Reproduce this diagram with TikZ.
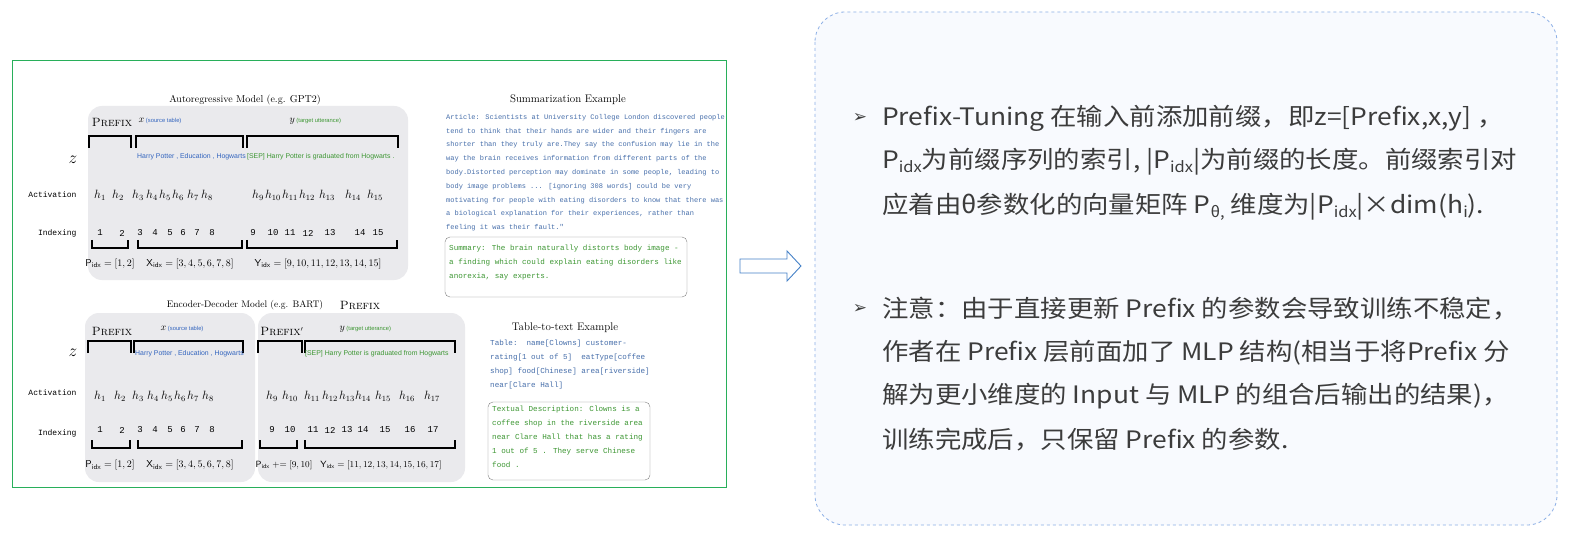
\documentclass[tikz,border=0pt]{standalone}
\usepackage{fontspec}
\usetikzlibrary{positioning, calc, shapes.arrows}
\newfontfamily\cjk{Noto Sans CJK SC}
\newfontfamily\papermono{Liberation Mono}
\newfontfamily\papersans{Liberation Sans}
\newfontfamily\symfont{DejaVu Sans}
\definecolor{xgreen}{RGB}{40,175,90}
\definecolor{xbox}{RGB}{234,234,237}
\definecolor{xtok}{RGB}{50,100,190}
\definecolor{xgood}{RGB}{60,150,50}
\definecolor{xart}{RGB}{70,110,170}
\definecolor{xdash}{RGB}{140,175,230}
\definecolor{xtext}{RGB}{60,60,60}
\definecolor{xarrow}{RGB}{70,130,200}
\tikzset{
	brack/.style={line width=1.5pt},
	panel/.style={fill=xbox, draw=none, rounded corners=14pt},
	lab/.style={font=\papermono\fontsize{8}{8}\selectfont, anchor=east},
	tit/.style={font=\fontsize{10}{10}\selectfont},
	act/.style={font=\fontsize{12}{12}\selectfont, inner sep=0pt},
	num/.style={font=\papermono\fontsize{9}{9}\selectfont, inner sep=0pt},
	tokb/.style={font=\papersans\fontsize{6.9}{6.9}\selectfont, text=xtok, inner sep=0pt},
	tokg/.style={font=\papersans\fontsize{6.9}{6.9}\selectfont, text=xgood, inner sep=0pt},
	mono/.style={font=\papermono\fontsize{7}{13.8}\selectfont, align=left, anchor=north west, inner sep=0pt},
	mono2/.style={font=\papermono\fontsize{7.6}{14}\selectfont, align=left, anchor=north west, inner sep=0pt},
	cn/.style={font=\cjk\fontsize{24}{24}\selectfont, text=xtext, anchor=west, inner sep=0pt},
	bul/.style={font=\symfont\fontsize{17}{17}\selectfont, text=xtext},
}
\newcommand\topbrace[3]{\draw[brack] (#1,#3+12) -- (#1,#3) -- (#2,#3) -- (#2,#3+12);}
\newcommand\botbrace[3]{\draw[brack] (#1,#3-8) -- (#1,#3) -- (#2,#3) -- (#2,#3-8);}
\newcommand\lowidx[1]{\raisebox{-4pt}{\fontsize{15}{15}\selectfont #1}}
\newcommand\pfx{{\fontsize{12}{12}\selectfont\scshape Prefix}}
\newcommand\cnline[1]{\scalebox{1.1}[1]{#1}}
\begin{document}
\begin{tikzpicture}[x=1pt, y=-1pt]
	\useasboundingbox (0,0) rectangle (1569,540);
	\fill[white] (0,0) rectangle (1569,540);

	% paper figure
	\draw[xgreen, line width=0.8pt] (12,60) rectangle (726,487);
	\node[tit] (ar) at (245,100) {Autoregressive Model (e.g. GPT2)};
	\fill[panel] (88,106) rectangle (408,280);
	\node[tit] at (112,122) {\pfx};
	\node[tit] at (160,121) {$\fontsize{15}{15}\selectfont x$\,{\papersans\fontsize{5.8}{5.8}\selectfont\color{xtok}(source table)}};
	\node[tit, anchor=west] at (286,121) {$\fontsize{15}{15}\selectfont y$\,{\papersans\fontsize{5.8}{5.8}\selectfont\color{xgood}(target utterance)}};
	\topbrace{89}{131}{136}
	\topbrace{136}{243}{136}
	\topbrace{247}{398}{136}
	\node[font=\fontsize{18}{18}\selectfont] (z1) at (73,160) {$z$};
	\node[tokb, anchor=west] at (137,157) {Harry Potter , Education , Hogwarts};
	\node[tokg, anchor=west] at (247,157) {[SEP] Harry Potter is graduated from Hogwarts .};
	\node[lab] (act1) at (80,195) {Activation};
	\node[lab] (idx1) at (80,233) {Indexing};
	\foreach \xx/\ii in {100/1,118/2,138/3,152/4,165/5,178/6,193/7,207/8,258/9,273/10,290/11,307/12,327/13,353/14,375/15}
		\node[act] at (\xx,195) {$h_{\ii}$};
	\foreach \xx/\ii in {100/1,122/2,140/3,155/4,170/5,183/6,197/7,212/8,253/9,273/10,290/11,308/12,330/13,360/14,378/15}
		\node[num] at (\xx,233) {\ii};
	\botbrace{92}{128}{248}
	\botbrace{138}{242}{248}
	\botbrace{247}{397}{248}
	\node[tit] at (110,264) {$\mathsf{P_{idx}}=[1,2]$};
	\node[tit] at (190,264) {$\mathsf{X_{idx}}=[3,4,5,6,7,8]$};
	\node[tit] at (318,264) {$\mathsf{Y_{idx}}=[9,10,11,12,13,14,15]$};

	\node[tit, font=\fontsize{11}{11}\selectfont] (sum) at (568,100) {Summarization Example};
	\node[mono, text=xart] at (446,114) {Article: Scientists at University College London discovered people\\tend to think that their hands are wider and their fingers are\\shorter than they truly are.They say the confusion may lie in the\\way the brain receives information from different parts of the\\body.Distorted perception may dominate in some people, leading to\\body image problems ... [ignoring 308 words] could be very\\motivating for people with eating disorders to know that there was\\a biological explanation for their experiences, rather than\\feeling it was their fault."};
	\draw[gray, rounded corners=5pt] (445,237) rectangle (687,297);
	\node[mono2, text=xgood] at (449,245) {Summary: The brain naturally distorts body image -\\a finding which could explain eating disorders like\\anorexia, say experts.};

	\node[tit, font=\fontsize{9.5}{9.5}\selectfont] (ed) at (245,305) {Encoder-Decoder Model (e.g. BART)};
	\node[tit] at (360,305) {\pfx};
	\fill[panel] (85,313) rectangle (255,482);
	\fill[panel] (258,313) rectangle (465,482);
	\node[tit] at (112,331) {\pfx};
	\node[tit] at (182,329) {$\fontsize{15}{15}\selectfont x$\,{\papersans\fontsize{5.8}{5.8}\selectfont\color{xtok}(source table)}};
	\node[tit] at (282,331) {\pfx$'$};
	\node[tit, anchor=west] at (336,329) {$\fontsize{15}{15}\selectfont y$\,{\papersans\fontsize{5.8}{5.8}\selectfont\color{xgood}(target utterance)}};
	\topbrace{88}{131}{341}
	\topbrace{134}{243}{341}
	\topbrace{258}{302}{341}
	\topbrace{305}{455}{341}
	\node[font=\fontsize{18}{18}\selectfont] (z2) at (73,353) {$z$};
	\node[tokb, anchor=west] at (135,354) {Harry Potter , Education , Hogwarts};
	\node[tokg, anchor=west] at (305,354) {[SEP] Harry Potter is graduated from Hogwarts};
	\node[lab] (act2) at (80,393) {Activation};
	\node[lab] (idx2) at (80,433) {Indexing};
	\foreach \xx/\ii in {100/1,120/2,138/3,153/4,167/5,180/6,193/7,208/8,272/9,290/10,312/11,330/12,347/13,363/14,383/15,407/16,432/17}
		\node[act] at (\xx,396) {$h_{\ii}$};
	\foreach \xx/\ii in {100/1,122/2,140/3,155/4,170/5,183/6,197/7,212/8,272/9,290/10,313/11,330/12,347/13,363/14,385/15,410/16,433/17}
		\node[num] at (\xx,430) {\ii};
	\botbrace{92}{130}{448}
	\botbrace{138}{242}{448}
	\botbrace{260}{297}{448}
	\botbrace{305}{455}{448}
	\node[tit] at (110,465) {$\mathsf{P_{idx}}=[1,2]$};
	\node[tit] at (190,465) {$\mathsf{X_{idx}}=[3,4,5,6,7,8]$};
	\node[tit, font=\fontsize{9}{9}\selectfont] at (284,465) {$\mathsf{P_{idx}}\mathrel{+}=[9,10]$};
	\node[tit, font=\fontsize{9}{9}\selectfont] at (381,465) {$\mathsf{Y_{idx}}=[11,12,13,14,15,16,17]$};

	\node[tit, font=\fontsize{11}{11}\selectfont] (tab) at (565,328) {Table-to-text Example};
	\node[mono2, text=xart] at (490,340) {Table:\ \ name[Clowns] customer-\\rating[1 out of 5]\ \ eatType[coffee\\shop] food[Chinese] area[riverside]\\near[Clare Hall]};
	\draw[gray, rounded corners=5pt] (488,402) rectangle (650,480);
	\node[mono2, text=xgood] at (492,406) {Textual Description: Clowns is a\\coffee shop in the riverside area\\near Clare Hall that has a rating\\1 out of 5 . They serve Chinese\\food .};

	% arrow
	\draw[xarrow, fill=white, line width=0.9pt, line join=miter] (740,259) -- (787,259) -- (787,251) -- (801,266) -- (787,281) -- (787,273) -- (740,273) -- cycle;

	% notes
	\draw[xdash, dashed, line width=0.8pt, fill=xdash!6, rounded corners=30pt] (815,12) rectangle (1557,525);
	\node[bul] (b1) at (860,118) {➢};
	\node[bul] (b2) at (860,309) {➢};
	\node[cn] (l1) at (882,118) {\cnline{Prefix-Tuning 在输入前添加前缀，即z=[Prefix,x,y] ，}};
	\node[cn] (l2) at (882,162) {\cnline{P\lowidx{idx}为前缀序列的索引, |P\lowidx{idx}|为前缀的长度。前缀索引对}};
	\node[cn] (l3) at (882,207) {\cnline{应着由θ参数化的向量矩阵 P\lowidx{θ,} 维度为|P\lowidx{idx}|×dim(h\lowidx{i}).}};
	\node[cn] (l4) at (882,309) {\cnline{注意：由于直接更新 Prefix 的参数会导致训练不稳定，}};
	\node[cn] (l5) at (882,353) {\cnline{作者在 Prefix 层前面加了 MLP 结构(相当于将Prefix 分}};
	\node[cn] (l6) at (882,396) {\cnline{解为更小维度的 Input 与 MLP 的组合后输出的结果)，}};
	\node[cn] (l7) at (882,440) {\cnline{训练完成后，只保留 Prefix 的参数.}};
\end{tikzpicture}
\end{document}
